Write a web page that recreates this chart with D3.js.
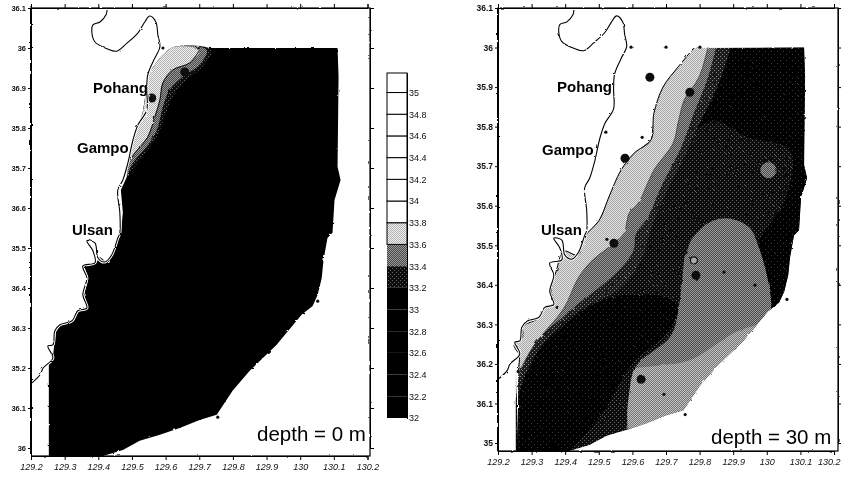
<!DOCTYPE html>
<html>
<head>
<meta charset="utf-8">
<script src="https://cdn.jsdelivr.net/npm/d3@7"></script>
<style>
  body { margin: 0; background: #fff; }
  text { font-family: "Liberation Sans", Arial, sans-serif; fill: #000; }
  .axis path, .axis line { stroke: #000; }
  .axis text { font-size: 9px; font-weight: bold; fill: #111; }
  .axis.x text { font-style: italic; font-weight: normal; }
  .place { font-size: 15px; font-weight: bold; }
  .depth { font-size: 20.5px; }
</style>
</head>
<body>
<svg id="chart" width="841" height="478"></svg>
<script>
// longitude / latitude ticks as printed on the scan
var lonTicks = [129.2, 129.3, 129.4, 129.5, 129.6, 129.7, 129.8, 129.9, 130, 130.1, 130.2]
var lonLabels = ['129.2', '129.3', '129.4', '129.5', '129.6', '129.7', '129.8', '129.9', '130', '130.1', '130.2']
var latTicks = [36.1, 36, 35.9, 35.8, 35.7, 35.6, 35.5, 35.4, 35.3, 35.2, 35.1, 35]
var latLabelsLeft = ['36.1', '36', '36.9', '35.8', '35.7', '36.6', '35.5', '36.4', '36.3', '35.2', '36.1', '36']
var latLabelsRight = ['36.1', '36', '35.9', '35.8', '35.7', '35.6', '35.5', '36.4', '36.3', '36.2', '36.1', '35']

var placeNames = ['Pohang', 'Gampo', 'Ulsan']

// colour bar
var barTicks = [35, 34.8, 34.6, 34.4, 34.2, 34, 33.8, 33.6, 33.4, 33.2, 33, 32.8, 32.6, 32.4, 32.2, 32]
var barEdges = [32, 32.2, 32.4, 32.6, 32.8, 33, 33.2, 33.4, 33.6, 33.8, 34, 34.2, 34.4, 34.6, 34.8, 35, 35.18]

// coastline, [lon, lat]
var coast = [[129.426,36.095],[129.423,36.083],[129.405,36.065],[129.384,36.058],[129.381,36.038],[129.39,36.015],
  [129.426,35.998],[129.455,35.992],[129.485,36.012],[129.518,36.038],[129.538,36.065],[129.553,36.08],[129.571,36.065],
  [129.577,36.033],[129.583,36.003],[129.565,35.97],[129.547,35.933],[129.544,35.895],[129.544,35.845],[129.518,35.808],
  [129.503,35.77],[129.488,35.713],[129.473,35.67],[129.458,35.645],[129.464,35.588],[129.464,35.538],[129.458,35.525],
  [129.44,35.483],[129.42,35.465],[129.399,35.475],[129.39,35.513],[129.366,35.518],[129.384,35.493],[129.39,35.463],
  [129.354,35.455],[129.366,35.425],[129.354,35.383],[129.366,35.35],[129.339,35.343],[129.322,35.318],[129.286,35.308],
  [129.271,35.293],[129.265,35.258],[129.25,35.255],[129.265,35.225],[129.236,35.2],[129.227,35.183],[129.203,35.163]]

// outer edge of the sampled area, shared by both depths
var sampleEdge = [[130.111,36],[130.114,35.928],[130.111,35.703],[130.12,35.67],[130.102,35.62],[130.096,35.538],
  [130.081,35.525],[130.069,35.468],[130.064,35.425],[130.052,35.383],[130.037,35.355],[130.004,35.333],[129.93,35.258],
  [129.85,35.193],[129.799,35.143],[129.752,35.083],[129.701,35.07],[129.642,35.05],[129.583,35.033],[129.523,35.018],
  [129.473,34.995],[129.414,34.98],[129.253,34.98],[129.253,35.213]]

// depth 0 m
var westSurface = [[129.265,35.225],[129.269,35.258],[129.275,35.293],[129.29,35.308],[129.326,35.318],[129.343,35.343],
  [129.37,35.35],[129.358,35.383],[129.37,35.425],[129.358,35.455],[129.394,35.463],[129.404,35.478],[129.424,35.465],[129.443,35.483],
  [129.467,35.538],[129.473,35.588],[129.467,35.645],[129.485,35.678],[129.488,35.713],[129.5,35.745],[129.515,35.795],
  [129.532,35.838],[129.541,35.888],[129.544,35.925],[129.568,35.958],[129.592,35.983],[129.627,36.003],[129.722,36]]
var shoreSurface = westSurface.slice(17, 27)
var surf338 = [[129.737,35.995],[129.71,35.953],[129.663,35.92],[129.621,35.878],[129.598,35.828],[129.574,35.778],
  [129.532,35.728],[129.5,35.695],[129.485,35.678]]
var surf336 = [[129.722,35.995],[129.701,35.958],[129.651,35.928],[129.612,35.895],[129.592,35.853],[129.574,35.795],
  [129.544,35.753],[129.503,35.713],[129.485,35.678]]
var surf334 = [[129.701,35.995],[129.672,35.963],[129.621,35.945],[129.592,35.913],[129.583,35.87],[129.568,35.828],
  [129.547,35.778],[129.509,35.738],[129.488,35.713]]
var surfSmall = [[129.592,36],[129.697,36],[130.052,35.367],[129.755,35.077]]
var surfBig = [[129.559,35.875],[129.657,35.94]]

// depth 30 m
var west30 = [[129.783,35.999],[129.736,35.951],[129.691,35.9],[129.664,35.834],[129.655,35.766],[129.605,35.733],
  [129.566,35.69],[129.53,35.622],[129.501,35.563],[129.456,35.52],[129.438,35.475],[129.396,35.485],[129.373,35.434],
  [129.358,35.384],[129.367,35.353],[129.334,35.341],[129.319,35.315],[129.274,35.295],[129.274,35.27],[129.248,35.247],
  [129.263,35.222],[129.26,35.181]]
var band30a = [[129.825,36.001],[129.798,35.925],[129.754,35.867],[129.736,35.809],[129.721,35.758],[129.664,35.69],
  [129.617,35.606],[129.59,35.581],[129.575,35.53],[129.545,35.505],[129.477,35.459],[129.438,35.416],[129.396,35.341],
  [129.307,35.247],[129.263,35.181]]
var band30b = [[129.849,36.001],[129.825,35.925],[129.783,35.834],[129.745,35.748],[129.685,35.647],[129.646,35.571],
  [129.611,35.53],[129.602,35.485],[129.557,35.434],[129.498,35.391],[129.447,35.358],[129.388,35.315],[129.319,35.265],
  [129.268,35.189],[129.26,35.156]]
var band30c = [[129.893,36.001],[129.864,35.925],[129.834,35.867],[129.795,35.799],[129.742,35.703],[129.697,35.627],
  [129.652,35.533],[129.623,35.457],[129.557,35.386],[129.477,35.353],[129.396,35.305],[129.319,35.234],[129.277,35.163],[129.26,35.12]]
var north30 = [[129.893,36.001],[130.13,36.001],[130.129,35.672],[130.099,35.513],[130.063,35.366],[130.007,35.333],
  [130.004,35.409],[129.974,35.5],[130.054,35.614],[130.069,35.741],[129.944,35.773],[129.843,35.816],[129.795,35.799],
  [129.834,35.867],[129.864,35.925]]
var core30 = [[129.557,35.373],[129.477,35.348],[129.396,35.297],[129.319,35.232],[129.277,35.163],[129.254,35.12],
  [129.254,34.973],[129.396,34.973],[129.456,35.019],[129.515,35.08],[129.566,35.156],[129.605,35.206],[129.706,35.282],
  [129.736,35.348],[129.682,35.373]]
var lobe30 = [[129.774,35.513],[129.825,35.556],[129.885,35.568],[129.947,35.546],[129.974,35.5],[130.004,35.409],
  [130.012,35.333],[129.98,35.26],[129.742,35.006],[129.578,34.994],[129.581,35.029],[129.59,35.08],[129.596,35.163],
  [129.617,35.201],[129.715,35.272],[129.739,35.348],[129.754,35.467]]
var lobeInner30 = [[129.605,35.189],[129.596,35.027],[129.801,35.057],[129.905,35.184],[129.995,35.297],[129.92,35.285],
  [129.771,35.209],[129.682,35.196]]
var spot30 = [[130.005,35.69]]
var small30 = [[129.596,36.001],[129.7,36.001],[129.801,36.001],[129.521,35.786],[129.629,35.773],[129.524,35.515],
  [129.873,35.432],[129.965,35.399],[130.06,35.363],[129.376,35.343],[129.26,35.181],[129.694,35.123],[129.757,35.072]]
var big30 = [[129.652,35.925],[129.771,35.887],[129.578,35.72],[129.545,35.505],[129.789,35.424],[129.626,35.161]]
var open30 = [[129.783,35.462]]

var svg = d3.select('#chart')
var defs = svg.append('defs')

// halftone screens of the printed page (two dots per tile)
function addScreen(id, size, bg, dot) {
  var p = defs.append('pattern').attr('id', id).attr('patternUnits', 'userSpaceOnUse')
    .attr('width', size).attr('height', size)
  p.append('rect').attr('width', size).attr('height', size).attr('fill', bg)
  p.append('rect').attr('width', 1).attr('height', 1).attr('fill', dot)
  p.append('rect').attr('x', size / 2).attr('y', size / 2).attr('width', 1).attr('height', 1).attr('fill', dot)
}
addScreen('light', 2, '#e2e2e2', '#a8a8a8')
addScreen('lightDots', 2, '#f2f2f2', '#b0b0b0')
addScreen('mid', 2, '#4a4a4a', '#989898')
addScreen('medium', 4, '#1e1e1e', '#8a8a8a')
addScreen('lobe', 2, '#4a4a4a', '#9c9c9c')
addScreen('lobeLight', 2, '#727272', '#c4c4c4')
addScreen('dark', 4, '#0c0c0c', '#626262')
addScreen('darker', 6, '#000', '#3a3a3a')

// scanned look: rough edges and a little softness
var rough = defs.append('filter').attr('id', 'scan').attr('filterUnits', 'userSpaceOnUse')
  .attr('x', 0).attr('y', 0).attr('width', 841).attr('height', 478)
rough.append('feTurbulence').attr('type', 'fractalNoise').attr('baseFrequency', 0.18).attr('numOctaves', 2).attr('seed', 4).attr('result', 'n')
rough.append('feDisplacementMap').attr('in', 'SourceGraphic').attr('in2', 'n').attr('scale', 2.2).attr('result', 'd')
rough.append('feGaussianBlur').attr('in', 'd').attr('stdDeviation', 0.35)
var soft = defs.append('filter').attr('id', 'soft').attr('filterUnits', 'userSpaceOnUse')
  .attr('x', 0).attr('y', 0).attr('width', 841).attr('height', 478)
soft.append('feGaussianBlur').attr('stdDeviation', 0.35)

function drawPanel(id, xRange, yRange, frameRight, frameBottom, latLabels, latFont) {
  var x = d3.scaleLinear().domain([129.2, 130.2]).range(xRange)
  var y = d3.scaleLinear().domain([35, 36.1]).range(yRange)
  var line = d3.line().x(function (d) { return x(d[0]) }).y(function (d) { return y(d[1]) })
  var smooth = d3.line().x(function (d) { return x(d[0]) }).y(function (d) { return y(d[1]) }).curve(d3.curveCatmullRom.alpha(0.5))
  var g = svg.append('g').attr('id', id)
  var marks = g.append('g').attr('filter', 'url(#scan)')

  var panel = {
    x: x, y: y, line: line, smooth: smooth, g: g, marks: marks,
    dots: function (pts, r) {
      return marks.selectAll(null).data(pts).enter().append('circle')
        .attr('cx', function (d) { return x(d[0]) })
        .attr('cy', function (d) { return y(d[1]) })
        .attr('r', r).attr('fill', '#111')
    },
    finish: function () {
      marks.append('path').attr('d', smooth(coast)).attr('fill', 'none').attr('stroke', '#fff').attr('stroke-width', 3)
      marks.append('path').attr('d', smooth(coast)).attr('fill', 'none').attr('stroke', '#000').attr('stroke-width', 1.1)
      marks.append('rect').attr('x', xRange[0]).attr('y', 8)
        .attr('width', frameRight - xRange[0]).attr('height', frameBottom - 8)
        .attr('fill', 'none').attr('stroke', '#000').attr('stroke-width', 1.2)
      marks.append('line').attr('x1', xRange[0]).attr('x2', xRange[0]).attr('y1', 8).attr('y2', frameBottom)
        .attr('stroke', '#000').attr('stroke-width', 2)

      var axes = g.append('g').attr('filter', 'url(#soft)')
      axes.append('g').attr('class', 'axis x').attr('transform', 'translate(0,' + frameBottom + ')')
        .call(d3.axisBottom(x).tickValues(lonTicks).tickSize(4).tickPadding(4)
          .tickFormat(function (d, i) { return lonLabels[i] }))
      axes.append('g').attr('class', 'axis').attr('transform', 'translate(0,8)')
        .call(d3.axisTop(x).tickValues(lonTicks).tickSize(4).tickFormat(''))
      var yAxis = axes.append('g').attr('class', 'axis').attr('transform', 'translate(' + xRange[0] + ',0)')
        .call(d3.axisLeft(y).tickValues(latTicks).tickSize(3).tickPadding(2)
          .tickFormat(function (d, i) { return latLabels[i] }))
      yAxis.selectAll('text').style('font-size', latFont + 'px')
      axes.append('g').attr('class', 'axis').attr('transform', 'translate(' + frameRight + ',0)')
        .call(d3.axisRight(y).tickValues(latTicks).tickSize(4).tickFormat(''))
      axes.selectAll('.domain').attr('stroke', 'none')
    }
  }
  return panel
}

// left panel, depth = 0 m
var left = drawPanel('surface', [31, 367.5], [448, 8], 370, 456, latLabelsLeft, 7.5)
left.marks.append('path').attr('d', left.line(sampleEdge.concat(westSurface)) + 'Z').attr('fill', '#000')
function areaSurface(contour, fill) {
  left.marks.append('path').attr('d', left.smooth(shoreSurface.concat(contour)) + 'Z').attr('fill', fill)
}
areaSurface(surf338, 'url(#dark)')
areaSurface(surf336, 'url(#mid)')
areaSurface(surf334, 'url(#lightDots)')
left.marks.append('path').attr('d', left.smooth(surf334)).attr('fill', 'none').attr('stroke', '#000').attr('stroke-width', 1)
left.dots(surfSmall, 1.6)
left.dots(surfBig, 4.5)
left.finish()

// right panel, depth = 30 m
var right = drawPanel('deep', [498, 834], [443, 8], 838, 451, latLabelsRight, 8.5)
var clip30 = sampleEdge.concat([[129.26, 34.98]], west30.slice().reverse())
defs.append('clipPath').attr('id', 'clip30').append('path').attr('d', right.line(clip30) + 'Z')
var inside = right.marks.append('g').attr('clip-path', 'url(#clip30)')
function area30(pts, fill) {
  inside.append('path').attr('d', right.smooth(pts) + 'Z').attr('fill', fill)
}
inside.append('path').attr('d', right.line(clip30) + 'Z').attr('fill', 'url(#dark)')
area30(north30, 'url(#darker)')
area30(core30, 'url(#darker)')
area30(lobe30, 'url(#lobe)')
area30(lobeInner30, 'url(#lobeLight)')
area30(west30.concat(band30c.slice().reverse()), 'url(#medium)')
area30(west30.concat(band30b.slice().reverse()), 'url(#mid)')
area30(west30.concat(band30a.slice().reverse()), 'url(#light)')
inside.selectAll(null).data(spot30).enter().append('circle')
  .attr('cx', function (d) { return right.x(d[0]) })
  .attr('cy', function (d) { return right.y(d[1]) })
  .attr('r', 8).attr('fill', 'url(#lobe)')
right.marks.append('path').attr('d', right.smooth(west30)).attr('fill', 'none').attr('stroke', '#000').attr('stroke-width', 1)
right.marks.append('path').attr('d', right.smooth(band30a)).attr('fill', 'none').attr('stroke', '#222').attr('stroke-width', .6)
right.dots(small30, 1.6)
right.dots(big30, 4.5)
right.marks.selectAll(null).data(open30).enter().append('circle')
  .attr('cx', function (d) { return right.x(d[0]) })
  .attr('cy', function (d) { return right.y(d[1]) })
  .attr('r', 3.5).attr('fill', '#aaa').attr('stroke', '#111').attr('stroke-width', 1.2)
right.finish()
// last label sits against the page edge
right.g.selectAll('.axis.x .tick:last-child text').attr('text-anchor', 'end').attr('dx', 6)

// place names and depth captions
var captions = svg.append('g').attr('filter', 'url(#soft)')
var placeLeft = [[93, 93], [77, 153], [72, 235]]
var placeRight = [[557, 92], [542, 155], [541, 235]]
captions.selectAll(null).data(placeNames.concat(placeNames)).enter().append('text')
  .attr('class', 'place')
  .attr('x', function (d, i) { return i < 3 ? placeLeft[i][0] : placeRight[i - 3][0] })
  .attr('y', function (d, i) { return i < 3 ? placeLeft[i][1] : placeRight[i - 3][1] })
  .text(function (d) { return d })
captions.append('text').attr('class', 'depth').attr('x', 257).attr('y', 441).text('depth = 0 m')
captions.append('text').attr('class', 'depth').attr('x', 711).attr('y', 444).text('depth = 30 m')

// colour bar
var barY = d3.scaleLinear().domain([32, 35.18]).range([418, 73])
function barFill(v) {
  if (v >= 33.8) return '#fff'
  if (v >= 33.6) return 'url(#lightDots)'
  if (v >= 33.4) return 'url(#mid)'
  if (v >= 33.2) return 'url(#dark)'
  return '#000'
}
var bar = svg.append('g').attr('id', 'colorbar').attr('filter', 'url(#soft)')
bar.selectAll('rect').data(barEdges.slice(0, -1)).enter().append('rect')
  .attr('x', 387).attr('width', 20)
  .attr('y', function (d, i) { return barY(barEdges[i + 1]) })
  .attr('height', function (d, i) { return barY(d) - barY(barEdges[i + 1]) })
  .attr('fill', barFill)
  .attr('stroke', function (d) { return d >= 33.6 ? '#000' : 'none' })
  .attr('stroke-width', 1)
bar.append('g').attr('class', 'axis').attr('transform', 'translate(407,0)')
  .call(d3.axisRight(barY).tickValues(barTicks).tickSize(1).tickPadding(1).tickFormat(function (d) { return d3.format('')(d) }))
bar.selectAll('.domain').attr('stroke', 'none')
bar.selectAll('.tick text').style('font-weight', 'normal')
</script>
</body>
</html>
